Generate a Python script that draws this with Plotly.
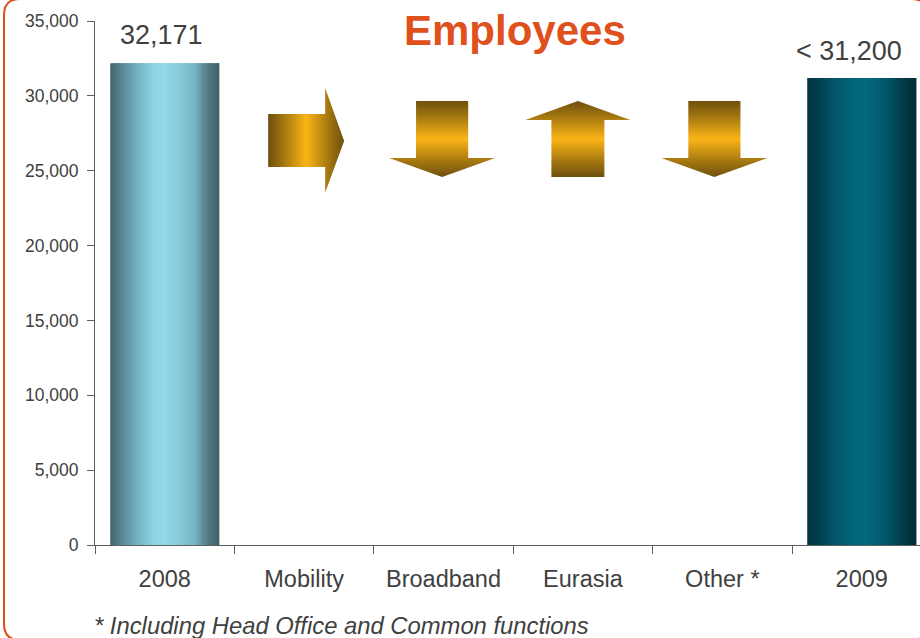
import numpy as np
import plotly.graph_objects as go

# ---- data -------------------------------------------------------------
categories = ["2008", "Mobility", "Broadband", "Eurasia", "Other *", "2009"]
bar_categories = ["2008", "2009"]
bar_values = [32171, 31200]
bar_labels = ["32,171", "&lt; 31,200"]
arrow_categories = ["Mobility", "Broadband", "Eurasia", "Other *"]
arrow_directions = ["right", "down", "up", "down"]
y_ticks = [0, 5000, 10000, 15000, 20000, 25000, 30000, 35000]

# ---- styling ----------------------------------------------------------
FONT = "Liberation Sans, Arial, sans-serif"
TEXT = "#404040"
AXIS = "#5e5e5e"
ORANGE = "#e0501c"

W, H = 920, 638
L, R, T, B = 95, 0, 21, 93
BAR_W = 0.782
X_RANGE = [-0.5, 5.418]
Y_RANGE = [0, 35000]

bar_scales = {
    "2008": [(0.0, "#44626c"), (0.1, "#568590"), (0.25, "#75b3c2"), (0.4, "#8dd4e4"),
             (0.5, "#92d9e9"), (0.62, "#88ccdb"), (0.78, "#76b4c2"), (0.85, "#5e8f9a"),
             (0.92, "#4d737d"), (1.0, "#44606a")],
    "2009": [(0.0, "#013542"), (0.1, "#023f4e"), (0.25, "#02566a"), (0.45, "#02667c"),
             (0.55, "#03687e"), (0.7, "#015a6d"), (0.85, "#01404e"), (1.0, "#002a35")],
}
gold_scale = [[0.0, "#6e500e"], [0.2, "#a27610"], [0.5, "#fbb416"],
              [0.8, "#a27610"], [1.0, "#6e500e"]]


def hex_rgb(h):
    h = h.lstrip("#")
    return np.array([int(h[i:i + 2], 16) for i in (0, 2, 4)], dtype=float)


def sample(scale, t):
    pos = [p for p, _ in scale]
    cols = np.array([hex_rgb(c) for _, c in scale])
    rgb = [np.interp(t, pos, cols[:, k]) for k in range(3)]
    return "rgb({:.0f},{:.0f},{:.0f})".format(*rgb)


fig = go.Figure()

# Bars drawn as overlapping vertical stripes to give the cylinder shading
N = 48
step = BAR_W / N
for i in range(N):
    off = -BAR_W / 2 + i * step
    wid = min(2 * step, BAR_W / 2 - off)
    t = (i + 0.5) / N
    fig.add_trace(go.Bar(
        x=bar_categories, y=bar_values,
        offset=off, width=wid,
        marker=dict(color=[sample(bar_scales[c], t) for c in bar_categories],
                    line=dict(width=0)),
        hoverinfo="skip", showlegend=False,
    ))

# Direction arrows (geometry in category / value units)
arrow_shift = {"Mobility": 0.01, "Broadband": -0.01, "Eurasia": -0.036, "Other *": -0.057}
for cat, d in zip(arrow_categories, arrow_directions):
    cx = categories.index(cat) + arrow_shift[cat]
    if d == "right":
        xs = [cx - 0.268, cx + 0.141, cx + 0.141, cx + 0.277, cx + 0.141, cx + 0.141, cx - 0.268, cx - 0.268]
        ys = [28790, 28790, 30530, 26990, 23530, 25250, 25250, 28790]
        grad = "horizontal"
    elif d == "down":
        bw, hw = 0.187, 0.38
        xs = [cx - bw, cx + bw, cx + bw, cx + hw, cx, cx - hw, cx - bw, cx - bw]
        ys = [29660, 29660, 25850, 25850, 24580, 25850, 25850, 29660]
        grad = "vertical"
    else:
        bw, hw = 0.19, 0.377
        xs = [cx - bw, cx + bw, cx + bw, cx + hw, cx, cx - hw, cx - bw, cx - bw]
        ys = [24580, 24580, 28390, 28390, 29660, 28390, 28390, 24580]
        grad = "vertical"
    fig.add_trace(go.Scatter(
        x=xs, y=ys, xaxis="x2", mode="none", fill="toself",
        fillgradient=dict(type=grad, colorscale=gold_scale),
        hoverinfo="skip", showlegend=False,
    ))

# Value labels above the two bars (category index used as x position)
label_shift = {"2008": (-3, 11), "2009": (-13, 10)}
for cat, val, txt in zip(bar_categories, bar_values, bar_labels):
    dx, dy = label_shift[cat]
    fig.add_annotation(x=categories.index(cat), y=val, xref="x2", yref="y",
                       text=txt, showarrow=False,
                       xanchor="center", yanchor="bottom", xshift=dx, yshift=dy,
                       font=dict(family=FONT, size=27, color=TEXT))


def px_x(p):
    return (p - L) / (W - L - R)


def px_y(p):
    return (H - B - p) / (H - T - B)


fig.add_annotation(x=px_x(515), y=px_y(30), xref="paper", yref="paper",
                   text="<b>Employees</b>", showarrow=False,
                   xanchor="center", yanchor="middle",
                   font=dict(family=FONT, size=42, color=ORANGE))

fig.add_annotation(x=px_x(92), y=px_y(625), xref="paper", yref="paper",
                   text="<i>* Including Head Office and Common functions</i>",
                   showarrow=False, xanchor="left", yanchor="middle",
                   font=dict(family=FONT, size=23.8, color=TEXT))

# Rounded orange frame
x0, x1, y0, y1, r = 4, 928, -1, 640, 16
rx = r / (W - L - R)
ry = r / (H - T - B)
X0, X1, Y0, Y1 = px_x(x0), px_x(x1), px_y(y0), px_y(y1)
path = (f"M {X0 + rx} {Y0} L {X1 - rx} {Y0} Q {X1} {Y0} {X1} {Y0 - ry} "
        f"L {X1} {Y1 + ry} Q {X1} {Y1} {X1 - rx} {Y1} "
        f"L {X0 + rx} {Y1} Q {X0} {Y1} {X0} {Y1 + ry} "
        f"L {X0} {Y0 - ry} Q {X0} {Y0} {X0 + rx} {Y0} Z")
fig.add_shape(type="path", path=path, xref="paper", yref="paper",
              line=dict(color=ORANGE, width=2), fillcolor="rgba(0,0,0,0)")

fig.update_layout(
    width=W, height=H,
    margin=dict(l=L, r=R, t=T, b=B, pad=0),
    paper_bgcolor="white", plot_bgcolor="white",
    barmode="overlay",
    showlegend=False,
    xaxis=dict(
        type="category", categoryorder="array", categoryarray=categories,
        range=X_RANGE, tickson="boundaries", ticks="outside", ticklen=8,
        tickcolor=AXIS, tickwidth=1, showline=True, linecolor=AXIS, linewidth=1,
        showgrid=False, zeroline=False, ticklabelstandoff=13,
        tickfont=dict(family=FONT, size=23.5, color=TEXT), fixedrange=True,
    ),
    xaxis2=dict(overlaying="x", range=X_RANGE, visible=False, fixedrange=True),
    yaxis=dict(
        range=Y_RANGE, tickvals=y_ticks, tickformat=",", ticks="outside", ticklen=7,
        tickcolor=AXIS, tickwidth=1, showline=True, linecolor=AXIS, linewidth=1,
        showgrid=False, zeroline=False, ticklabelstandoff=5,
        tickfont=dict(family=FONT, size=17.5, color=TEXT), fixedrange=True,
    ),
)

fig.write_html("out.html", config={"displayModeBar": False})
